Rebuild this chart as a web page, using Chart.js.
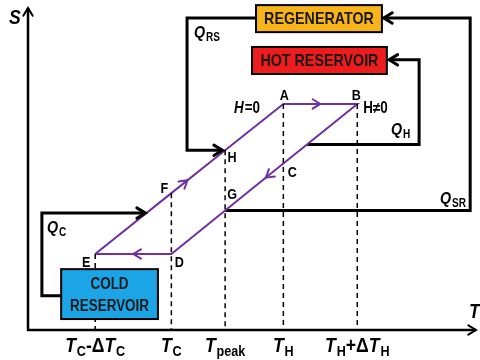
<!DOCTYPE html>
<html>
<head>
<meta charset="utf-8">
<script src="https://cdn.jsdelivr.net/npm/chart.js@4.4.0/dist/chart.umd.min.js"></script>
<style>
  html, body { margin: 0; padding: 0; background: #fff; }
  #wrap { width: 480px; height: 360px; }
</style>
</head>
<body>
<div id="wrap"><canvas id="cycle-chart" width="480" height="360"></canvas></div>
<script>
// T-S diagram of the cycle, abstract units (T and S both 0..100)
const cycleLabels = ['E', 'F', 'H', 'A', 'B', 'C', 'G', 'D'];
const cycleT = [15, 32, 44, 57, 73.5, 57, 44, 32];
const cycleS = [23.6, 42.5, 55.8, 70.2, 70.2, 51.7, 37.1, 23.6];

// temperature ticks and where their dashed guide starts (E, F, H, A, B)
const tickT = [15, 32, 44, 57, 73.5];
const guideTopS = [23.6, 42.5, 55.8, 70.2, 70.2];

// heat flow paths
const qrsT = [50.9, 35.5, 35.5, 43.4];
const qrsS = [96.9, 96.9, 55.8, 55.8];
const qsrT = [44, 98.7, 98.7, 79.4];
const qsrS = [37.1, 37.1, 96.9, 96.9];
const qhT = [62.3, 87.3, 87.3, 80.6];
const qhS = [57.6, 57.6, 83.9, 83.9];
const qcT = [7.4, 3.1, 3.1, 26.2];
const qcS = [10.6, 10.6, 36.3, 36.3];

const FAM = '"Liberation Sans", Arial, sans-serif';
const SQUEEZE = 0.84; // narrow the letters, closer to the original's condensed face
const PURPLE = '#7030a0';

function toXY(xs, ys) {
    return xs.map((x, i) => ({ x: x, y: ys[i] }));
}

const cycleData = toXY(cycleT, cycleS);
cycleData.push({ x: cycleT[0], y: cycleS[0] });

const guideData = [];
tickT.forEach((t, i) => {
    guideData.push({ x: t, y: guideTopS[i] }, { x: t, y: 0 }, { x: t, y: null });
});

function flow(xs, ys) {
    return {
        data: toXY(xs, ys),
        showLine: true,
        borderColor: '#000',
        borderWidth: 3,
        pointRadius: 0,
        fill: false,
        isFlow: true
    };
}

function squeezedText(ctx, text, x, y) {
    ctx.save();
    ctx.translate(x, y);
    ctx.scale(SQUEEZE, 1);
    ctx.fillText(text, 0, 0);
    ctx.restore();
}

// draw a list of text runs; {t, it, sub}
function drawRuns(ctx, runs, x, y, size, align) {
    const subSize = Math.round(size * 0.7);
    let w = 0;
    runs.forEach(r => {
        ctx.font = (r.it ? 'italic ' : '') + 'bold ' + (r.sub ? subSize : size) + 'px ' + FAM;
        r.w = (ctx.measureText(r.t).width + (r.it ? 1 : 0)) * SQUEEZE;
        w += r.w;
    });
    let cx = align === 'center' ? x - w / 2 : x;
    ctx.textAlign = 'left';
    ctx.textBaseline = 'alphabetic';
    runs.forEach(r => {
        ctx.font = (r.it ? 'italic ' : '') + 'bold ' + (r.sub ? subSize : size) + 'px ' + FAM;
        squeezedText(ctx, r.t, cx, y + (r.sub ? size * 0.18 : 0));
        cx += r.w;
    });
}

function chevron(ctx, x, y, ang, len, color, width) {
    ctx.save();
    ctx.strokeStyle = color;
    ctx.lineWidth = width;
    ctx.lineCap = 'round';
    ctx.lineJoin = 'miter';
    ctx.beginPath();
    ctx.moveTo(x - len * Math.cos(ang - 0.55), y - len * Math.sin(ang - 0.55));
    ctx.lineTo(x, y);
    ctx.lineTo(x - len * Math.cos(ang + 0.55), y - len * Math.sin(ang + 0.55));
    ctx.stroke();
    ctx.restore();
}

const tickRuns = [
    [{ t: 'T', it: true }, { t: 'C', sub: true }, { t: '-' }, { t: 'Δ' }, { t: 'T', it: true }, { t: 'C', sub: true }],
    [{ t: 'T', it: true }, { t: 'C', sub: true }],
    [{ t: 'T', it: true }, { t: 'peak', sub: true }],
    [{ t: 'T', it: true }, { t: 'H', sub: true }],
    [{ t: 'T', it: true }, { t: 'H', sub: true }, { t: '+' }, { t: 'Δ' }, { t: 'T', it: true }, { t: 'H', sub: true }]
];

// label offsets from each cycle point, px
const labelOffsets = {
    E: [-9, 13], F: [-7, 0], H: [7, 12], A: [1, -4],
    B: [-1, -4], C: [9, 13], G: [7, -12], D: [8, 13]
};

// segments carrying a direction arrow: [start index, fraction]
const arrowAt = [[1, 0.3], [3, 0.5], [5, 0.3], [7, 0.5]];

const boxes = [
    { t0: 50.9, t1: 79.0, s0: 92.5, s1: 100.9, fill: '#f8b418', size: 17, lines: ['REGENERATOR'] },
    { t0: 50.0, t1: 80.1, s0: 79.5, s1: 87.9, fill: '#ee1c1c', size: 17, lines: ['HOT RESERVOIR'] },
    { t0: 7.4, t1: 29.0, s0: 3.4, s1: 18.9, fill: '#1ba5e6', size: 16, lines: ['COLD', 'RESERVOIR'] }
];

const diagramPlugin = {
    id: 'diagram',
    afterDatasetsDraw(chart) {
        const ctx = chart.ctx;
        const xs = chart.scales.x, ys = chart.scales.y;
        const px = v => xs.getPixelForValue(v);
        const py = v => ys.getPixelForValue(v);
        const area = chart.chartArea;
        ctx.save();

        // axes
        ctx.strokeStyle = '#000';
        ctx.lineWidth = 2.5;
        ctx.beginPath();
        ctx.moveTo(area.left, area.top);
        ctx.lineTo(area.left, area.bottom);
        ctx.lineTo(area.right, area.bottom);
        ctx.stroke();
        chevron(ctx, area.left, area.top, -Math.PI / 2, 9, '#000', 2);
        chevron(ctx, area.right, area.bottom, 0, 9, '#000', 2);

        // cycle direction arrows
        arrowAt.forEach(([i, f]) => {
            const a = cycleData[i], b = cycleData[i + 1];
            const x0 = px(a.x), y0 = py(a.y), x1 = px(b.x), y1 = py(b.y);
            const ang = Math.atan2(y1 - y0, x1 - x0);
            chevron(ctx, x0 + (x1 - x0) * f, y0 + (y1 - y0) * f, ang, 9, PURPLE, 2);
        });

        // heat flow arrow heads
        chart.data.datasets.forEach(ds => {
            if (!ds.isFlow) return;
            const n = ds.data.length;
            const a = ds.data[n - 2], b = ds.data[n - 1];
            const ang = Math.atan2(py(b.y) - py(a.y), px(b.x) - px(a.x));
            chevron(ctx, px(b.x), py(b.y), ang, 10, '#000', 3);
        });

        // boxes
        boxes.forEach(bx => {
            const x0 = px(bx.t0), x1 = px(bx.t1), y0 = py(bx.s1), y1 = py(bx.s0);
            ctx.fillStyle = bx.fill;
            ctx.fillRect(x0, y0, x1 - x0, y1 - y0);
            ctx.strokeStyle = '#000';
            ctx.lineWidth = 2;
            ctx.strokeRect(x0, y0, x1 - x0, y1 - y0);
            ctx.fillStyle = '#1a1a1a';
            ctx.font = 'bold ' + bx.size + 'px ' + FAM;
            ctx.textAlign = 'center';
            ctx.textBaseline = 'middle';
            const lh = 22;
            const cy = (y0 + y1) / 2 - (bx.lines.length - 1) * lh / 2 + 1;
            bx.lines.forEach((l, k) => squeezedText(ctx, l, (x0 + x1) / 2, cy + k * lh));
        });

        ctx.fillStyle = '#000';

        // point letters
        cycleLabels.forEach((l, i) => {
            const off = labelOffsets[l];
            ctx.font = 'bold 15px ' + FAM;
            ctx.textAlign = 'center';
            ctx.textBaseline = 'alphabetic';
            squeezedText(ctx, l, px(cycleT[i]) + off[0], py(cycleS[i]) + off[1]);
        });
        drawRuns(ctx, [{ t: 'H', it: true }, { t: '=0' }], px(cycleT[2]) + 9, py(cycleS[3]) + 9, 16, 'left');
        drawRuns(ctx, [{ t: 'H≠0' }], px(cycleT[4]) + 6, py(cycleS[4]) + 9, 16, 'left');

        // heat labels
        drawRuns(ctx, [{ t: 'Q', it: true }, { t: 'RS', sub: true }], 194, 38, 17, 'left');
        drawRuns(ctx, [{ t: 'Q', it: true }, { t: 'H', sub: true }], 391, 135, 17, 'left');
        drawRuns(ctx, [{ t: 'Q', it: true }, { t: 'SR', sub: true }], 440, 204, 17, 'left');
        drawRuns(ctx, [{ t: 'Q', it: true }, { t: 'C', sub: true }], 47, 233, 17, 'left');

        // axis titles
        drawRuns(ctx, [{ t: 'S', it: true }], 9, 24, 21, 'left');
        drawRuns(ctx, [{ t: 'T', it: true }], 469, 318, 21, 'left');

        // temperature tick labels
        tickT.forEach((t, i) => {
            drawRuns(ctx, tickRuns[i], px(t), 352, 21, 'center');
        });

        ctx.restore();
    }
};

new Chart(document.getElementById('cycle-chart'), {
    type: 'scatter',
    data: {
        datasets: [
            {
                data: guideData,
                showLine: true,
                borderColor: '#000',
                borderWidth: 1.5,
                borderDash: [5, 4],
                pointRadius: 0,
                spanGaps: false
            },
            {
                data: cycleData,
                showLine: true,
                borderColor: PURPLE,
                borderWidth: 2,
                pointRadius: 0,
                tension: 0
            },
            flow(qrsT, qrsS),
            flow(qsrT, qsrS),
            flow(qhT, qhS),
            flow(qcT, qcS)
        ]
    },
    options: {
        responsive: false,
        animation: false,
        layout: { padding: { left: 28, top: 8, right: 4, bottom: 30 } },
        scales: {
            x: { type: 'linear', min: 0, max: 100, display: false },
            y: { type: 'linear', min: 0, max: 100, display: false }
        },
        plugins: {
            legend: { display: false },
            tooltip: { enabled: false }
        }
    },
    plugins: [diagramPlugin]
});
</script>
</body>
</html>
